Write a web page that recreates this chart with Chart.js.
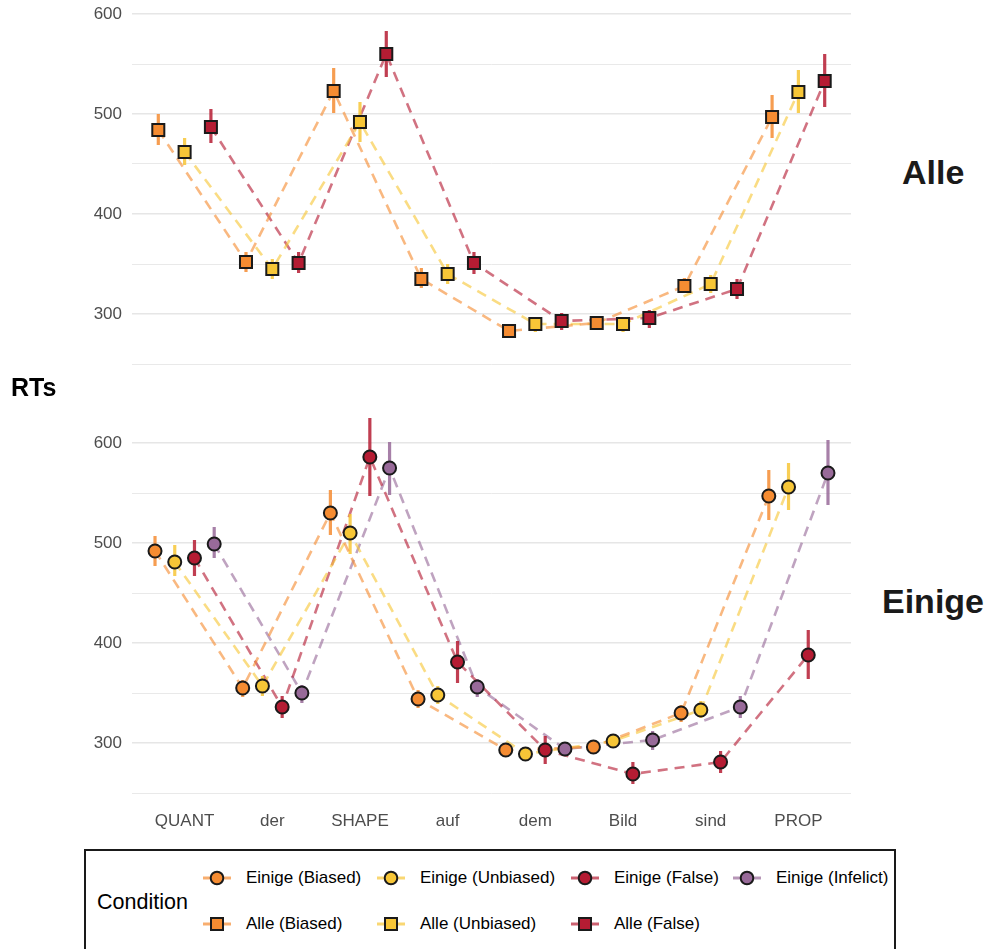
<!DOCTYPE html>
<html>
<head>
<meta charset="utf-8">
<script src="https://cdn.jsdelivr.net/npm/chart.js@4.4.1/dist/chart.umd.min.js"></script>
<style>
  html, body { margin: 0; padding: 0; background: #fff; }
  body { width: 991px; height: 949px; position: relative; overflow: hidden;
         font-family: "Liberation Sans", Arial, sans-serif; }
  canvas { position: absolute; left: 0; }
  #panelAlle { top: 0; }
  #panelEinige { top: 401px; }
  .strip { position: absolute; font-weight: bold; color: #1a1a1a; white-space: nowrap; }
  #yTitle { position: absolute; left: 11px; top: 373px; font-size: 25px; font-weight: bold; color: #000; }
  #legendBox { position: absolute; left: 84px; top: 849px; width: 812px; height: 120px;
               border: 2px solid #1a1a1a; box-sizing: border-box; }
  .legTitle { position: absolute; font-size: 21.5px; color: #000; }
  .legItem { position: absolute; font-size: 17px; color: #000; white-space: nowrap; }
  .legKey { position: absolute; }
</style>
</head>
<body>
<canvas id="panelAlle" width="851" height="373"></canvas>
<canvas id="panelEinige" width="851" height="441"></canvas>
<div id="yTitle">RTs</div>
<div class="strip" id="stripAlle" style="left:902px; top:153px; font-size:34px;">Alle</div>
<div class="strip" id="stripEinige" style="left:882px; top:582px; font-size:34px;">Einige</div>
<div id="legendBox"></div>

<script>
// Regions of the sentence on the x axis
const categories = ['QUANT', 'der', 'SHAPE', 'auf', 'dem', 'Bild', 'sind', 'PROP'];

// Y gridlines (every 50 ms) and the labelled values
const yGrid = [250, 300, 350, 400, 450, 500, 550, 600];
const yLabelled = [300, 400, 500, 600];

// "Alle" sentences: mean RT and interval bounds per region
const alleBiased      = [484, 352, 523, 335, 283, 291, 328, 497];
const alleBiasedLo    = [469, 342, 501, 326, 277, 284, 321, 476];
const alleBiasedHi    = [500, 362, 546, 346, 289, 297, 336, 519];

const alleUnbiased    = [462, 345, 492, 340, 290, 290, 330, 522];
const alleUnbiasedLo  = [449, 335, 472, 330, 282, 282, 321, 501];
const alleUnbiasedHi  = [476, 355, 512, 350, 296, 297, 339, 544];

const alleFalse       = [487, 351, 560, 351, 293, 296, 325, 533];
const alleFalseLo     = [471, 341, 537, 340, 284, 286, 315, 507];
const alleFalseHi     = [505, 362, 583, 362, 301, 304, 335, 560];

// "Einige" sentences
const einigeBiased      = [492, 355, 530, 344, 293, 296, 330, 547];
const einigeBiasedLo    = [477, 346, 508, 335, 287, 289, 321, 523];
const einigeBiasedHi    = [507, 363, 553, 353, 298, 302, 338, 573];

const einigeUnbiased    = [481, 357, 510, 348, 289, 302, 333, 556];
const einigeUnbiasedLo  = [467, 347, 489, 339, 284, 295, 325, 533];
const einigeUnbiasedHi  = [498, 367, 529, 357, 295, 308, 342, 580];

const einigeFalse       = [485, 336, 586, 381, 293, 269, 281, 388];
const einigeFalseLo     = [467, 325, 547, 360, 279, 259, 270, 364];
const einigeFalseHi     = [503, 347, 625, 402, 307, 281, 292, 413];

const einigeInfelict    = [499, 350, 575, 356, 294, 303, 336, 570];
const einigeInfelictLo  = [485, 340, 548, 346, 287, 293, 325, 538];
const einigeInfelictHi  = [516, 358, 601, 364, 300, 312, 347, 603];

// Condition colours
const COL = {
  biased:   [245, 140, 50],
  unbiased: [247, 198, 55],
  false:    [181, 28, 51],
  infelict: [152, 106, 153]
};
const rgba = (c, a) => `rgba(${c[0]},${c[1]},${c[2]},${a})`;

const FONT = '"Liberation Sans", Arial, sans-serif';

const alleSeries = [
  { label: 'Alle (Biased)',   v: alleBiased,   lo: alleBiasedLo,   hi: alleBiasedHi,   c: COL.biased },
  { label: 'Alle (Unbiased)', v: alleUnbiased, lo: alleUnbiasedLo, hi: alleUnbiasedHi, c: COL.unbiased },
  { label: 'Alle (False)',    v: alleFalse,    lo: alleFalseLo,    hi: alleFalseHi,    c: COL.false }
];
const einigeSeries = [
  { label: 'Einige (Biased)',   v: einigeBiased,   lo: einigeBiasedLo,   hi: einigeBiasedHi,   c: COL.biased },
  { label: 'Einige (Unbiased)', v: einigeUnbiased, lo: einigeUnbiasedLo, hi: einigeUnbiasedHi, c: COL.unbiased },
  { label: 'Einige (False)',    v: einigeFalse,    lo: einigeFalseLo,    hi: einigeFalseHi,    c: COL.false },
  { label: 'Einige (Infelict)', v: einigeInfelict, lo: einigeInfelictLo, hi: einigeInfelictHi, c: COL.infelict }
];

// Vertical interval bars, drawn right after each series' dashed line
const intervalBars = {
  id: 'intervalBars',
  afterDatasetDraw(chart, args) {
    const ds = chart.data.datasets[args.index];
    if (!ds.intervalLo) return;
    const xs = chart.scales.x, ys = chart.scales.y, ctx = chart.ctx;
    ctx.save();
    ctx.strokeStyle = ds.intervalColor;
    ctx.lineWidth = 3.2;
    ds.data.forEach((p, i) => {
      const x = xs.getPixelForValue(p.x);
      ctx.beginPath();
      ctx.moveTo(x, ys.getPixelForValue(ds.intervalLo[i]));
      ctx.lineTo(x, ys.getPixelForValue(ds.intervalHi[i]));
      ctx.stroke();
    });
    ctx.restore();
  }
};

function buildDatasets(series, pointStyle, radius) {
  const n = series.length, dodge = 0.9;
  const lines = [], points = [];
  series.forEach((s, k) => {
    const off = (k - (n - 1) / 2) * dodge / n;
    const data = s.v.map((y, i) => ({ x: i + 1 + off, y }));
    lines.push({
      label: s.label, data, showLine: true, order: 2,
      borderColor: rgba(s.c, 0.62), borderWidth: 2.6, borderDash: [10, 7],
      pointRadius: 0, pointHoverRadius: 0,
      intervalLo: s.lo, intervalHi: s.hi, intervalColor: rgba(s.c, 0.85)
    });
    points.push({
      label: s.label, data, showLine: false, order: 0,
      pointStyle, pointRadius: radius, pointHoverRadius: radius,
      backgroundColor: rgba(s.c, 1), borderColor: '#1a1a1a', borderWidth: 2
    });
  });
  return lines.concat(points);
}

function panel(canvasId, series, pointStyle, radius, yMin, yMax, showX) {
  return new Chart(document.getElementById(canvasId), {
    type: 'scatter',
    data: { datasets: buildDatasets(series, pointStyle, radius) },
    plugins: [intervalBars],
    options: {
      responsive: false, animation: false, devicePixelRatio: 1,
      layout: { padding: 0, autoPadding: false },
      plugins: { legend: { display: false }, tooltip: { enabled: false } },
      scales: {
        x: {
          type: 'linear', min: 0.4, max: 8.6, display: showX,
          afterBuildTicks: s => { s.ticks = categories.map((c, i) => ({ value: i + 1 })); },
          afterFit: s => { s.height = showX ? 40 : 0; s.paddingLeft = 0; s.paddingRight = 0; },
          grid: { display: false, drawTicks: false },
          border: { display: false },
          ticks: {
            autoSkip: false, maxRotation: 0, padding: 9, color: '#4d4d4d',
            font: { family: FONT, size: 17 },
            callback: v => categories[Math.round(v) - 1]
          }
        },
        y: {
          type: 'linear', min: yMin, max: yMax,
          afterBuildTicks: s => { s.ticks = yGrid.map(v => ({ value: v })); },
          afterFit: s => { s.width = 132; s.paddingTop = 0; s.paddingBottom = 0; },
          grid: {
            drawTicks: false, color: '#e6e6e6',
            lineWidth: ctx => (ctx.tick && yLabelled.includes(ctx.tick.value)) ? 1.5 : 0.9
          },
          border: { display: false },
          ticks: {
            autoSkip: false, padding: 10, color: '#4d4d4d',
            font: { family: FONT, size: 17 },
            callback: v => yLabelled.includes(v) ? String(v) : ''
          }
        }
      }
    }
  });
}

panel('panelAlle', alleSeries, 'rect', 8.5, 241, 614, false);
panel('panelEinige', einigeSeries, 'circle', 6.5, 241, 642, true);

// Legend: title on the left, two rows of keys
const box = document.getElementById('legendBox');
const bx = 84, by = 849;
const title = document.createElement('div');
title.className = 'legTitle';
title.textContent = 'Condition';
title.style.left = (95 - bx) + 'px';
title.style.top = (888 - by) + 'px';
box.appendChild(title);

const keyX = [217, 391, 585, 747];
const rowY = [878, 924];
function addKey(s, col, row, shape) {
  const cx = keyX[col], cy = rowY[row];
  const ns = 'http://www.w3.org/2000/svg';
  const svg = document.createElementNS(ns, 'svg');
  svg.setAttribute('width', 32); svg.setAttribute('height', 20);
  svg.setAttribute('class', 'legKey');
  svg.style.left = (cx - 16 - bx - 2) + 'px';
  svg.style.top = (cy - 10 - by - 2) + 'px';
  const ln = document.createElementNS(ns, 'line');
  ln.setAttribute('x1', 2); ln.setAttribute('x2', 30);
  ln.setAttribute('y1', 10); ln.setAttribute('y2', 10);
  ln.setAttribute('stroke', rgba(s.c, 0.7)); ln.setAttribute('stroke-width', 3);
  svg.appendChild(ln);
  let m;
  if (shape === 'circle') {
    m = document.createElementNS(ns, 'circle');
    m.setAttribute('cx', 16); m.setAttribute('cy', 10); m.setAttribute('r', 6.3);
  } else {
    m = document.createElementNS(ns, 'rect');
    m.setAttribute('x', 10); m.setAttribute('y', 4); m.setAttribute('width', 12); m.setAttribute('height', 12);
  }
  m.setAttribute('fill', rgba(s.c, 1)); m.setAttribute('stroke', '#1a1a1a'); m.setAttribute('stroke-width', 2);
  svg.appendChild(m);
  box.appendChild(svg);
  const t = document.createElement('div');
  t.className = 'legItem';
  t.textContent = s.label;
  t.style.left = (cx + 29 - bx - 2) + 'px';
  t.style.top = (cy - 10 - by - 2) + 'px';
  box.appendChild(t);
}
einigeSeries.forEach((s, i) => addKey(s, i, 0, 'circle'));
alleSeries.forEach((s, i) => addKey(s, i, 1, 'rect'));
</script>
</body>
</html>
